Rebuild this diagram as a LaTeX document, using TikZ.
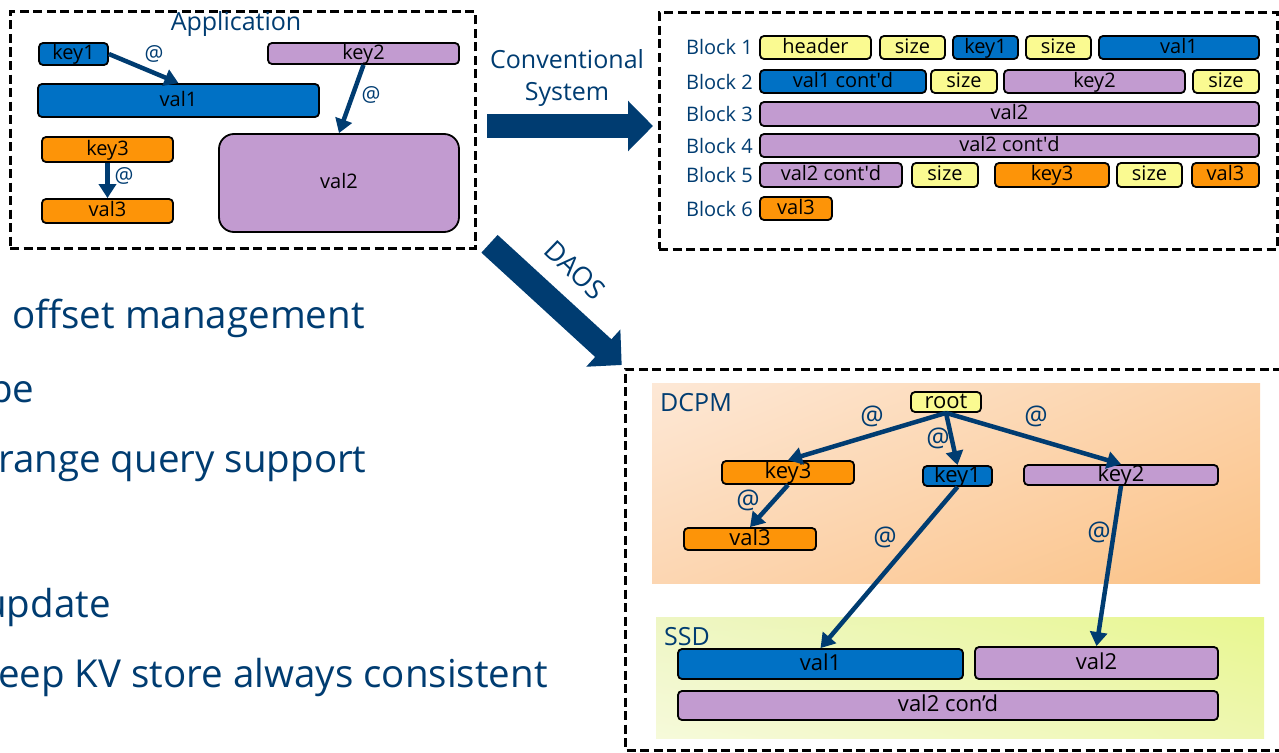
\documentclass[tikz,border=0pt]{standalone}
\usepackage{fontspec}
\setmainfont{Open Sans}
\usetikzlibrary{arrows.meta,shadings}
\definecolor{dkblue}{RGB}{0,60,113}
\definecolor{iblue}{RGB}{0,113,197}
\definecolor{ipurple}{RGB}{194,155,208}
\definecolor{iorange}{RGB}{253,148,8}
\definecolor{iyellow}{RGB}{250,250,145}
\definecolor{dcul}{RGB}{253,232,214}
\definecolor{dcur}{RGB}{252,210,168}
\definecolor{dcll}{RGB}{252,214,178}
\definecolor{dclr}{RGB}{251,194,134}
\definecolor{ssul}{RGB}{238,246,196}
\definecolor{ssur}{RGB}{232,247,143}
\definecolor{ssll}{RGB}{246,250,218}
\definecolor{sslr}{RGB}{238,247,176}
\begin{document}
\begin{tikzpicture}[x=1pt,y=-1pt,
 cell/.style={draw=black,line width=1.8pt,rounded corners=4pt,inner sep=0pt,text height=15pt,text depth=3.8pt,font=\fontsize{20}{20}\selectfont},
 cblue/.style={cell,fill=iblue},
 cpurp/.style={cell,fill=ipurple},
 corange/.style={cell,fill=iorange},
 cyellow/.style={cell,fill=iyellow},
 bigtxt/.style={font=\fontsize{22}{22}\selectfont,text height=16pt,text depth=4pt},
 dashbox/.style={draw=black,line width=3pt,dash pattern=on 9pt off 4.5pt},
 ptr/.style={draw=dkblue,line width=4.5pt,-{Triangle[length=14pt,width=17pt]}},
 atlbl/.style={text=dkblue,font=\fontsize{21}{21}\selectfont,inner sep=0pt},
 atbig/.style={text=dkblue,font=\fontsize{26}{26}\selectfont,inner sep=0pt},
 title/.style={text=dkblue,font=\fontsize{25}{25}\selectfont,inner sep=0pt},
 blocklbl/.style={text=dkblue,font=\fontsize{20}{20}\selectfont,inner sep=0pt,anchor=east},
 bigarrow/.style={draw=dkblue,line width=24pt,-{Triangle[length=25pt,width=49pt]}},
 bullet/.style={text=dkblue,font=\fontsize{38.5}{38.5}\selectfont,anchor=base west,inner sep=0pt},
]
\useasboundingbox (0,0) rectangle (1279,752);

% ---------- Application box ----------
\node[dashbox,minimum width=465pt,minimum height=236pt,inner sep=0pt] (app) at (242.5,130) {};
\node[title] (apptitle) at (236,24) {Application};
\node[cblue,minimum width=69pt,minimum height=22pt] (ak1) at (73.5,54) {key1};
\node[cblue,minimum width=281pt,minimum height=33pt] (av1) at (178.5,100.5) {val1};
\node[cpurp,minimum width=191pt,minimum height=21pt] (ak2) at (363.5,53.5) {key2};
\node[cpurp,minimum width=240pt,minimum height=98pt,rounded corners=15pt] (av2) at (339,183) {val2};
\node[corange,minimum width=131pt,minimum height=25pt] (ak3) at (107.5,149.5) {key3};
\node[corange,minimum width=131pt,minimum height=24pt] (av3) at (107.5,211) {val3};
\draw[ptr] (ak1.east) -- (av1.north);
\draw[ptr] (ak2.south) -- (av2.north);
\draw[ptr] (ak3.south) -- (av3.north);
\node[atlbl] (aat1) at (154,54) {@};
\node[atlbl] (aat2) at (371,95) {@};
\node[atlbl] (aat3) at (124,176) {@};

% ---------- Conventional system box ----------
\node[dashbox,minimum width=618pt,minimum height=236pt,inner sep=0pt] (conv) at (968,131) {};
\node[blocklbl] (bl1) at (753,47.5) {Block 1};
\node[blocklbl] (bl2) at (753,81.5) {Block 2};
\node[blocklbl] (bl3) at (753,114) {Block 3};
\node[blocklbl] (bl4) at (753,145.5) {Block 4};
\node[blocklbl] (bl5) at (753,175) {Block 5};
\node[blocklbl] (bl6) at (753,208.5) {Block 6};
% row 1
\node[cyellow,minimum width=111pt,minimum height=23pt] (r1a) at (815.5,47.5) {header};
\node[cyellow,minimum width=65pt,minimum height=23pt] (r1b) at (912.5,47.5) {size};
\node[cblue,minimum width=65pt,minimum height=23pt] (r1c) at (985.5,47.5) {key1};
\node[cyellow,minimum width=65pt,minimum height=23pt] (r1d) at (1058.5,47.5) {size};
\node[cblue,minimum width=160pt,minimum height=23pt] (r1e) at (1179,47.5) {val1};
% row 2
\node[cblue,minimum width=166pt,minimum height=23pt] (r2a) at (843,81.5) {val1 cont\textquotesingle d};
\node[cyellow,minimum width=66pt,minimum height=23pt] (r2b) at (964,81.5) {size};
\node[cpurp,minimum width=181pt,minimum height=23pt] (r2c) at (1094.5,81.5) {key2};
\node[cyellow,minimum width=66pt,minimum height=23pt] (r2d) at (1226,81.5) {size};
% row 3, 4
\node[cpurp,minimum width=499pt,minimum height=24pt] (r3a) at (1009.5,114) {val2};
\node[cpurp,minimum width=499pt,minimum height=23pt] (r4a) at (1009.5,145.5) {val2 cont\textquotesingle d};
% row 5
\node[cpurp,minimum width=142pt,minimum height=24pt] (r5a) at (831,175) {val2 cont\textquotesingle d};
\node[cyellow,minimum width=66pt,minimum height=24pt] (r5b) at (945,175) {size};
\node[corange,minimum width=114pt,minimum height=24pt] (r5c) at (1052,175) {key3};
\node[cyellow,minimum width=65pt,minimum height=24pt] (r5d) at (1149.5,175) {size};
\node[corange,minimum width=67pt,minimum height=24pt] (r5e) at (1225.5,175) {val3};
% row 6
\node[corange,minimum width=72pt,minimum height=23pt] (r6a) at (796,208.5) {val3};

% ---------- big arrows ----------
\node[title,align=center,font=\fontsize{25}{32}\selectfont] (convtxt) at (567,78) {Conventional\\System};
\coordinate (ca) at (487,126);
\coordinate (cb) at (653,126);
\draw[bigarrow] (ca) -- (cb);
\coordinate (da) at (489.5,243.8);
\coordinate (db) at (621.7,365);
\draw[bigarrow] (da) -- (db);
\node[title,rotate=-44,font=\fontsize{27}{27}\selectfont] (daostxt) at (575,270) {DAOS};

% ---------- DAOS box ----------
\coordinate (dtr) at (1282,369);
\coordinate (dtl) at (625,369);
\coordinate (dbl) at (625,750);
\coordinate (dbr) at (1282,750);
\draw[dashbox] (dtr) -- (dtl) -- (dbl) -- (dbr);
\shade[upper left=dcul,upper right=dcur,lower left=dcll,lower right=dclr]
  (652,383) rectangle (1260,583);
\shade[upper left=ssul,upper right=ssur,lower left=ssll,lower right=sslr]
  (656,617) rectangle (1264,738);
\node[title,anchor=west] (dcpm) at (660,403) {DCPM};
\node[title,anchor=west] (ssd) at (664,637) {SSD};

\node[cyellow,bigtxt,minimum width=70pt,minimum height=20pt] (troot) at (946,402) {root};
\node[corange,bigtxt,minimum width=132pt,minimum height=23pt] (tk3) at (788,472.5) {key3};
\node[cblue,bigtxt,minimum width=69pt,minimum height=20pt] (tk1) at (957.5,476) {key1};
\node[cpurp,bigtxt,minimum width=194pt,minimum height=20pt] (tk2) at (1121,475) {key2};
\node[corange,bigtxt,minimum width=132pt,minimum height=22pt] (tv3) at (750,539) {val3};
\node[cblue,bigtxt,minimum width=285pt,minimum height=30pt] (sv1) at (820.5,664) {val1};
\node[cpurp,bigtxt,minimum width=243pt,minimum height=32pt] (sv2) at (1096.5,663) {val2};
\node[cpurp,bigtxt,minimum width=540pt,minimum height=29pt] (sv2c) at (948,705.5) {val2 con’d};
\draw[ptr] (troot.south) -- (tk3.north);
\draw[ptr] (troot.south) -- (tk1.north);
\draw[ptr] (troot.south) -- (tk2.north);
\draw[ptr] (tk3.south) -- (tv3.north);
\draw[ptr] (tk1.south) -- (sv1.north);
\draw[ptr] (tk2.south) -- (sv2.north);
\node[atbig] (tat1) at (872,416) {@};
\node[atbig] (tat2) at (938,438) {@};
\node[atbig] (tat3) at (1036,416) {@};
\node[atbig] (tat4) at (748,500) {@};
\node[atbig] (tat5) at (885,537) {@};
\node[atbig] (tat6) at (1099,532) {@};

% ---------- left text (cut by the page edge) ----------
\begin{scope}
\clip (0,0) rectangle (1279,752);
\node[bullet] (l1) at (12,328) {offset management};
\node[bullet] (l2) at (-11,402) {pe};
\node[bullet] (l3) at (-2,472) {range query support};
\node[bullet] (l4) at (-17,617) {update};
\node[bullet] (l5) at (-2,687) {eep KV store always consistent};
\end{scope}
\end{tikzpicture}
\end{document}
